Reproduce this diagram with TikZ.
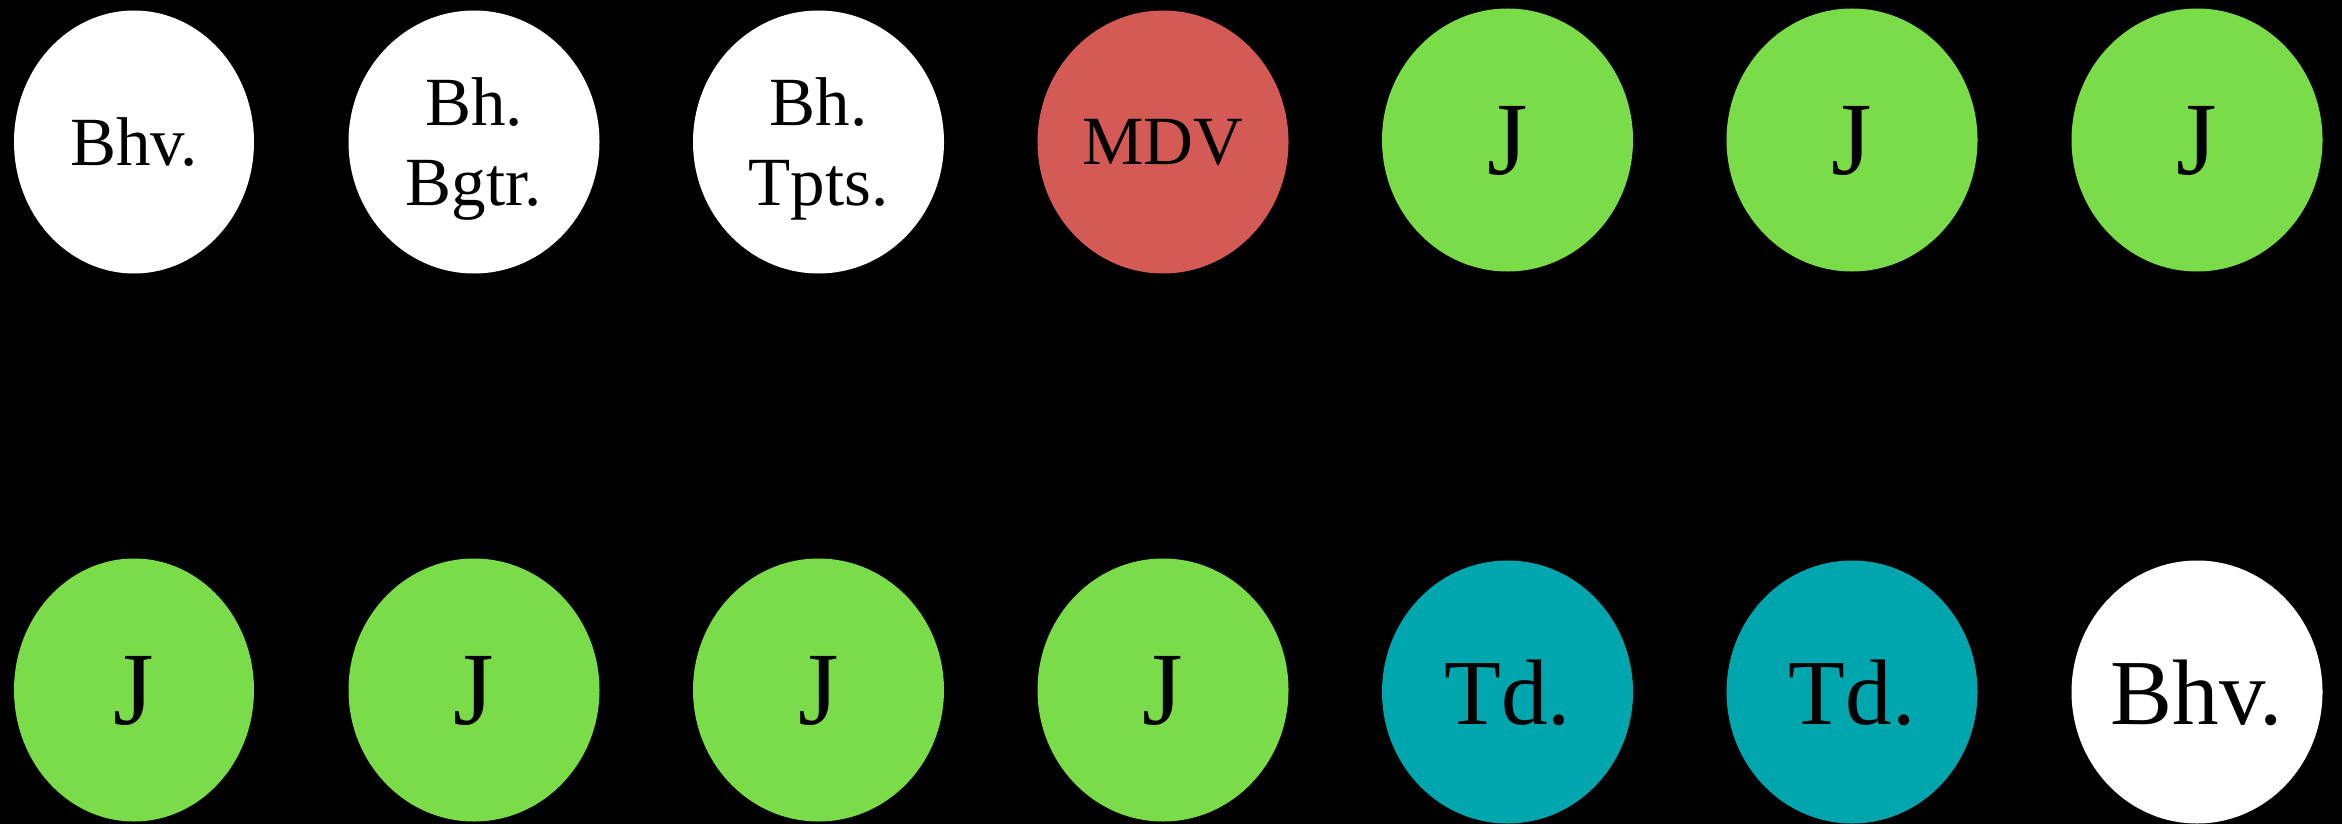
\documentclass[tikz,border=0pt]{standalone}
\usepackage{fontspec}
\setmainfont{Liberation Serif}
\usetikzlibrary{shapes.geometric}
\definecolor{nred}{RGB}{212,90,85}
\definecolor{ngreen}{RGB}{122,220,72}
\definecolor{nteal}{RGB}{0,166,174}
\tikzset{
  blob/.style={ellipse, inner sep=0pt, minimum width=251pt, minimum height=263pt,
    text=black, align=center, text depth=0pt},
  narrowblob/.style={blob, minimum width=240pt},
  smalltxt/.style={font=\fontsize{69}{80}\selectfont},
  bigtxt/.style={font=\fontsize{93}{100}\selectfont},
  jtxt/.style={font=\fontsize{104}{110}\selectfont},
  wnode/.style={blob, fill=white},
  rnode/.style={blob, fill=nred},
  gnode/.style={blob, fill=ngreen},
  tnode/.style={blob, fill=nteal}
}
\begin{document}
\begin{tikzpicture}[x=1pt, y=-1pt]
\fill[black] (0,0) rectangle (2342,824);
\useasboundingbox (0,0) rectangle (2342,824);
% top row
\node[wnode, narrowblob, smalltxt] (t1) at (134,142) {Bhv.};
\node[wnode, smalltxt] (t2) at (474,142) {Bh.\\Bgtr.};
\node[wnode, smalltxt] (t3) at (818.5,142) {Bh.\\Tpts.};
\node[rnode, smalltxt] (t4) at (1163,142) {MDV};
\node[gnode, jtxt] (t5) at (1507.5,140) {J};
\node[gnode, jtxt] (t6) at (1852,140) {J};
\node[gnode, jtxt] (t7) at (2197,140) {J};
% bottom row
\node[gnode, narrowblob, jtxt] (b1) at (134,690) {J};
\node[gnode, jtxt] (b2) at (474,690) {J};
\node[gnode, jtxt] (b3) at (818.5,690) {J};
\node[gnode, jtxt] (b4) at (1163,690) {J};
\node[tnode, bigtxt] (b5) at (1507.5,692) {Td.};
\node[tnode, bigtxt] (b6) at (1852,692) {Td.};
\node[wnode, bigtxt] (b7) at (2197,692) {Bhv.};
\end{tikzpicture}
\end{document}
